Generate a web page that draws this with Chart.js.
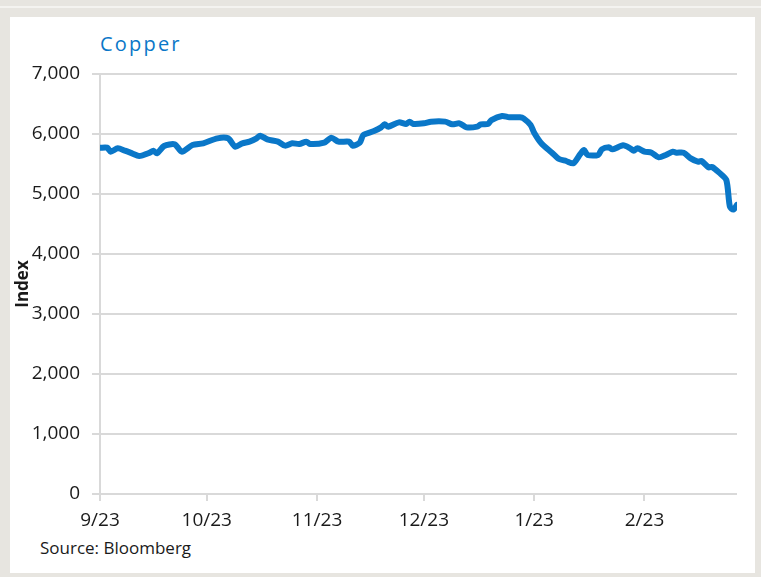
<!DOCTYPE html>
<html>
<head>
<meta charset="utf-8">
<script src="https://cdn.jsdelivr.net/npm/chart.js@4"></script>
<style>
  html, body { margin: 0; padding: 0; }
  body { width: 761px; height: 577px; background: #e7e5e0; position: relative; overflow: hidden; font-family: "Open Sans", sans-serif; }
  .strip { position: absolute; left: 0; top: 6px; width: 761px; height: 2px; background: #f4f3f0; }
  .panel { position: absolute; left: 10px; top: 17px; width: 745px; height: 556px; background: #fff; }
  .title { position: absolute; left: 100px; top: 34px; font-size: 20px; line-height: 20px; letter-spacing: 2.2px; color: #0a77c8; }
  .source { position: absolute; left: 40px; top: 539px; font-size: 17px; line-height: 18px; color: #1a1a1a; }
  .chart-box { position: absolute; left: 0; top: 0; width: 761px; height: 577px; }
</style>
</head>
<body>
<div class="strip"></div>
<div class="panel"></div>
<div class="title">Copper</div>
<div class="source">Source: Bloomberg</div>
<div class="chart-box"><canvas id="copperChart"></canvas></div>
<script>
// dagen sinds 1 september, met de koperindex per dag
const days = [0, 2, 3, 5, 7, 9, 11, 14, 15, 16, 18, 21, 23, 26, 29, 33, 36, 38, 40, 42,
  44, 45, 47, 50, 52, 54, 56, 58, 59, 63, 65, 67, 70, 71, 73, 74, 77, 79, 80, 81,
  84, 86, 87, 88, 91, 93, 97, 99, 101, 103, 106, 107, 109, 110, 113, 115, 118, 119, 121, 122,
  124, 127, 129, 131, 133, 135, 136, 137, 140, 141, 143, 144, 147, 149, 150, 151, 153, 155, 157, 159,
  161, 162, 164, 166, 168, 169, 171, 172, 174, 176, 177, 178, 179];
const copper = [5770, 5772, 5705, 5761, 5722, 5678, 5633, 5689, 5722, 5678, 5800, 5828, 5705, 5817, 5845, 5928, 5928, 5789, 5845, 5872,
  5928, 5972, 5911, 5872, 5806, 5845, 5833, 5872, 5833, 5856, 5939, 5872, 5872, 5806, 5856, 5983, 6050, 6111, 6161, 6122,
  6194, 6167, 6206, 6167, 6178, 6206, 6206, 6161, 6178, 6111, 6122, 6161, 6167, 6233, 6300, 6278, 6278, 6261, 6150, 6020,
  5845, 5689, 5583, 5550, 5511, 5667, 5733, 5650, 5650, 5744, 5778, 5744, 5811, 5761, 5722, 5761, 5706, 5689, 5611, 5650,
  5706, 5689, 5689, 5594, 5539, 5550, 5444, 5450, 5356, 5233, 4790, 4740, 4820];

// maandlabels op de x-as
const tickDays = [0, 30, 61, 91, 122, 153];
const tickLabels = ["9/23", "10/23", "11/23", "12/23", "1/23", "2/23"];

const yMax = 7000;
const yStep = 1000;

const points = days.map((d, i) => ({ x: d, y: copper[i] }));

const ctx = document.getElementById("copperChart").getContext("2d");

new Chart(ctx, {
  type: "line",
  data: {
    datasets: [
      {
        label: "Copper",
        data: points,
        borderColor: "#0a77c8",
        borderWidth: 6,
        borderJoinStyle: "round",
        borderCapStyle: "round",
        pointRadius: 0,
        tension: 0.25,
        fill: false,
      },
    ],
  },
  options: {
    responsive: true,
    maintainAspectRatio: false,
    animation: false,
    layout: { padding: { left: 10, right: 24, top: 74, bottom: 45 } },
    plugins: {
      legend: { display: false },
      tooltip: { enabled: false },
    },
    scales: {
      x: {
        type: "linear",
        min: 0,
        max: 179,
        afterBuildTicks: (scale) => {
          scale.ticks = tickDays.map((v) => ({ value: v }));
        },
        afterFit: (scale) => {
          scale.height = 38;
        },
        grid: {
          drawOnChartArea: false,
          drawTicks: true,
          tickLength: 7,
          color: "#d9d9d9",
          lineWidth: 2,
        },
        border: { display: false },
        ticks: {
          padding: 8,
          maxRotation: 0,
          autoSkip: false,
          color: "#1a1a1a",
          font: { family: "Open Sans", size: 19 },
          callback: (value) => {
            const i = tickDays.indexOf(value);
            return i >= 0 ? tickLabels[i] : "";
          },
        },
      },
      y: {
        min: 0,
        max: yMax,
        afterFit: (scale) => {
          scale.width = 90;
        },
        grid: {
          color: "#d9d9d9",
          lineWidth: 2,
          tickLength: 8,
        },
        border: { color: "#d9d9d9", width: 2 },
        ticks: {
          stepSize: yStep,
          padding: 12,
          color: "#1a1a1a",
          font: { family: "Open Sans", size: 19 },
          callback: (value) => value.toLocaleString("en-US"),
        },
        title: {
          display: true,
          text: "Index",
          color: "#1a1a1a",
          padding: { top: 3, bottom: 0 },
          font: { family: "Open Sans", size: 17, weight: "bold" },
        },
      },
    },
  },
});
</script>
</body>
</html>
